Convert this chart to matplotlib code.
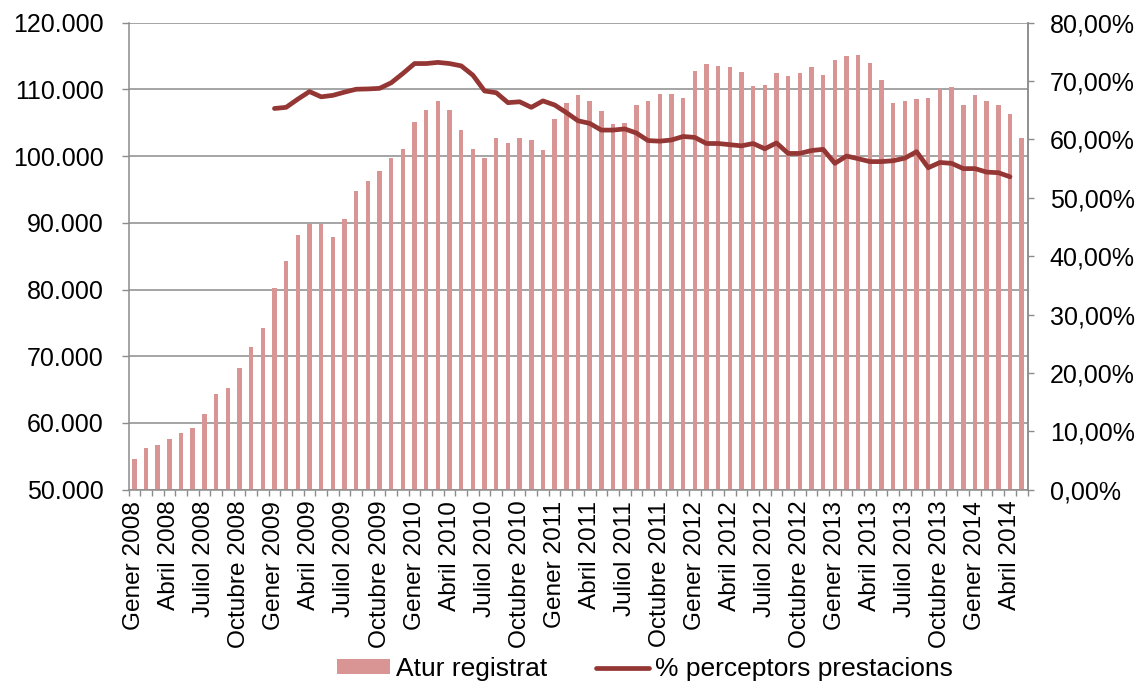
import numpy as np
import matplotlib
matplotlib.use("Agg")
import matplotlib.pyplot as plt
from matplotlib.ticker import FuncFormatter, FixedLocator

plt.rcParams['font.family'] = ['Liberation Sans', 'DejaVu Sans']

month_names = ["Gener", "Febrer", "Març", "Abril", "Maig", "Juny", "Juliol",
               "Agost", "Setembre", "Octubre", "Novembre", "Desembre"]
start_year = 2008
n_months = 77  # Gener 2008 .. Maig 2014
categories = [f"{month_names[i % 12]} {start_year + i // 12}" for i in range(n_months)]

atur_registrat = [
    54650, 56250, 56750, 57600, 58550, 59300, 61350, 64350, 65300, 68300, 71450, 74300,
    80250, 84200, 88100, 89800, 89800, 87800, 90500, 94800, 96200, 97700, 99750, 101050,
    105050, 106900, 108300, 106900, 103900, 101050, 99750, 102650, 101950, 102700, 102350, 100850,
    105500, 107900, 109100, 108250, 106800, 104800, 104900, 107600, 108250, 109250, 109250, 108650,
    112750, 113750, 113500, 113400, 112550, 110500, 110650, 112400, 112050, 112450, 113300, 112150,
    114400, 114950, 115150, 113900, 111450, 107900, 108200, 108600, 108700, 110000, 110300, 107650,
    109100, 108250, 107650, 106350, 102750]

# % perceptors prestacions: from Gener 2009 (index 12) to Abril 2014 (index 75)
pct_start = 12
pct_perceptors = [
    65.3, 65.5, 66.9, 68.2, 67.3, 67.55, 68.1, 68.6, 68.65, 68.75, 69.7, 71.3,
    73.0, 73.0, 73.2, 73.0, 72.6, 71.0, 68.3, 68.0, 66.3, 66.45, 65.5, 66.6,
    65.9, 64.6, 63.2, 62.75, 61.6, 61.6, 61.8, 61.1, 59.8, 59.7, 59.9, 60.5,
    60.35, 59.3, 59.3, 59.1, 58.9, 59.3, 58.4, 59.4, 57.6, 57.6, 58.1, 58.3,
    55.9, 57.15, 56.7, 56.2, 56.2, 56.35, 56.8, 57.9, 55.15, 56.05, 55.9, 55.0,
    55.0, 54.4, 54.3, 53.6]

bar_color = "#D99594"
line_color = "#943634"
grid_color = "#8C8C8C"
fs = 18

fig = plt.figure(figsize=(11.43, 6.83), dpi=100)
ax = fig.add_axes([128.5 / 1143, 1 - 489.6 / 683, (1027.5 - 128.5) / 1143, (489.6 - 22.7) / 683])

x = np.arange(n_months)
ax.bar(x, atur_registrat, width=0.38, color=bar_color, zorder=2, label="Atur registrat")
ax.set_xlim(-0.5, n_months - 0.5)
ax.set_ylim(50000, 120000)
ax.set_yticks(np.arange(50000, 120001, 10000))
ax.yaxis.set_major_formatter(FuncFormatter(lambda v, p: f"{int(v):,}".replace(",", ".")))
ax.grid(axis='y', color=grid_color, linewidth=1.1, zorder=0)
ax.set_axisbelow(True)

label_idx = list(range(0, n_months, 3))
ax.xaxis.set_major_locator(FixedLocator(label_idx))
ax.set_xticklabels([categories[i] for i in label_idx], rotation=90, fontsize=17.6)
ax.xaxis.set_minor_locator(FixedLocator(np.arange(-0.5, n_months, 1.0)))
ax.tick_params(axis='x', which='major', length=0, pad=8)
ax.tick_params(axis='x', which='minor', length=4, color=grid_color, width=1)
ax.tick_params(axis='y', which='major', length=5, color=grid_color, width=1, pad=13, labelsize=fs)

ax.spines['top'].set_visible(False)
for s in ['left', 'bottom', 'right']:
    ax.spines[s].set_color(grid_color)
    ax.spines[s].set_linewidth(1.1)

ax2 = ax.twinx()
xl = np.arange(pct_start, pct_start + len(pct_perceptors))
ax2.plot(xl, pct_perceptors, color=line_color, linewidth=3.4, solid_capstyle='round',
         solid_joinstyle='round', label="% perceptors prestacions", zorder=3)
ax2.set_ylim(0, 80)
ax2.set_yticks(np.arange(0, 81, 10))
ax2.yaxis.set_major_formatter(FuncFormatter(lambda v, p: f"{v:.2f}".replace(".", ",") + "%"))
ax2.tick_params(axis='y', length=4, color=grid_color, width=1, pad=12, labelsize=fs)
for s in ['top', 'left', 'bottom']:
    ax2.spines[s].set_visible(False)
ax2.spines['right'].set_color(grid_color)
ax2.spines['right'].set_linewidth(1.1)

h1, l1 = ax.get_legend_handles_labels()
h2, l2 = ax2.get_legend_handles_labels()
fig.legend(h1 + h2, l1 + l2, loc='lower center', bbox_to_anchor=(0.564, -0.032), ncol=2,
           frameon=False, fontsize=19, handlelength=2.0, handletextpad=0.23,
           columnspacing=1.85, handleheight=0.5)

fig.savefig("out.png", dpi=100)
